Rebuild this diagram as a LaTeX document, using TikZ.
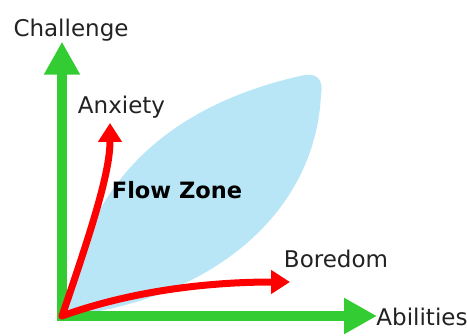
\documentclass[tikz,border=0pt]{standalone}
\usepackage{fontspec}
\setmainfont{DejaVu Sans}
\usetikzlibrary{arrows.meta}
\definecolor{flowblue}{RGB}{184,230,246}
\definecolor{axisgreen}{RGB}{51,204,51}
\definecolor{txtgray}{RGB}{34,34,34}
\begin{document}
\begin{tikzpicture}[x=1pt,y=-1pt,
  axis/.style={draw=axisgreen,line width=10pt,-{Triangle[length=33pt,width=34pt]}},
  curvearrow/.style={draw=red,line width=7pt,line join=round,{Triangle[length=19pt,width=23pt]}-{Triangle[length=19pt,width=23pt]}},
  lbl/.style={font=\fontsize{23}{27}\selectfont,text=txtgray,inner sep=0pt,anchor=base}]
\useasboundingbox (0,0) rectangle (467,336);
% flow zone
\fill[flowblue] (66,316) .. controls (82,190) and (160,108) .. (300,76)
  .. controls (316,72) and (324,78) .. (321,95)
  .. controls (315,215) and (210,300) .. (66,316) -- cycle;
% coordinates
\coordinate (O) at (62,316);
\coordinate (vbase) at (62,321);
\coordinate (hbase) at (57,316);
\coordinate (ctop) at (62,41.7);
\coordinate (aright) at (377,316);
\coordinate (anxtip) at (110,123);
\coordinate (bortip) at (290,282);
% axes
\draw[axis] (vbase) -- (ctop);
\draw[axis] (hbase) -- (aright);
% red curves
\draw[curvearrow] (anxtip) .. controls (110,170) and (95,220) .. (O)
  .. controls (140,288) and (220,282) .. (bortip);
% labels
\node[lbl] (challenge) at (71,36.5) {Challenge};
\node[lbl] (anxiety) at (121.5,114) {Anxiety};
\node[lbl,font=\bfseries\fontsize{22.5}{27}\selectfont,text=black] (flow) at (177,199) {Flow Zone};
\node[lbl] (boredom) at (336,268) {Boredom};
\node[lbl] (abilities) at (422,326) {Abilities};
\end{tikzpicture}
\end{document}
